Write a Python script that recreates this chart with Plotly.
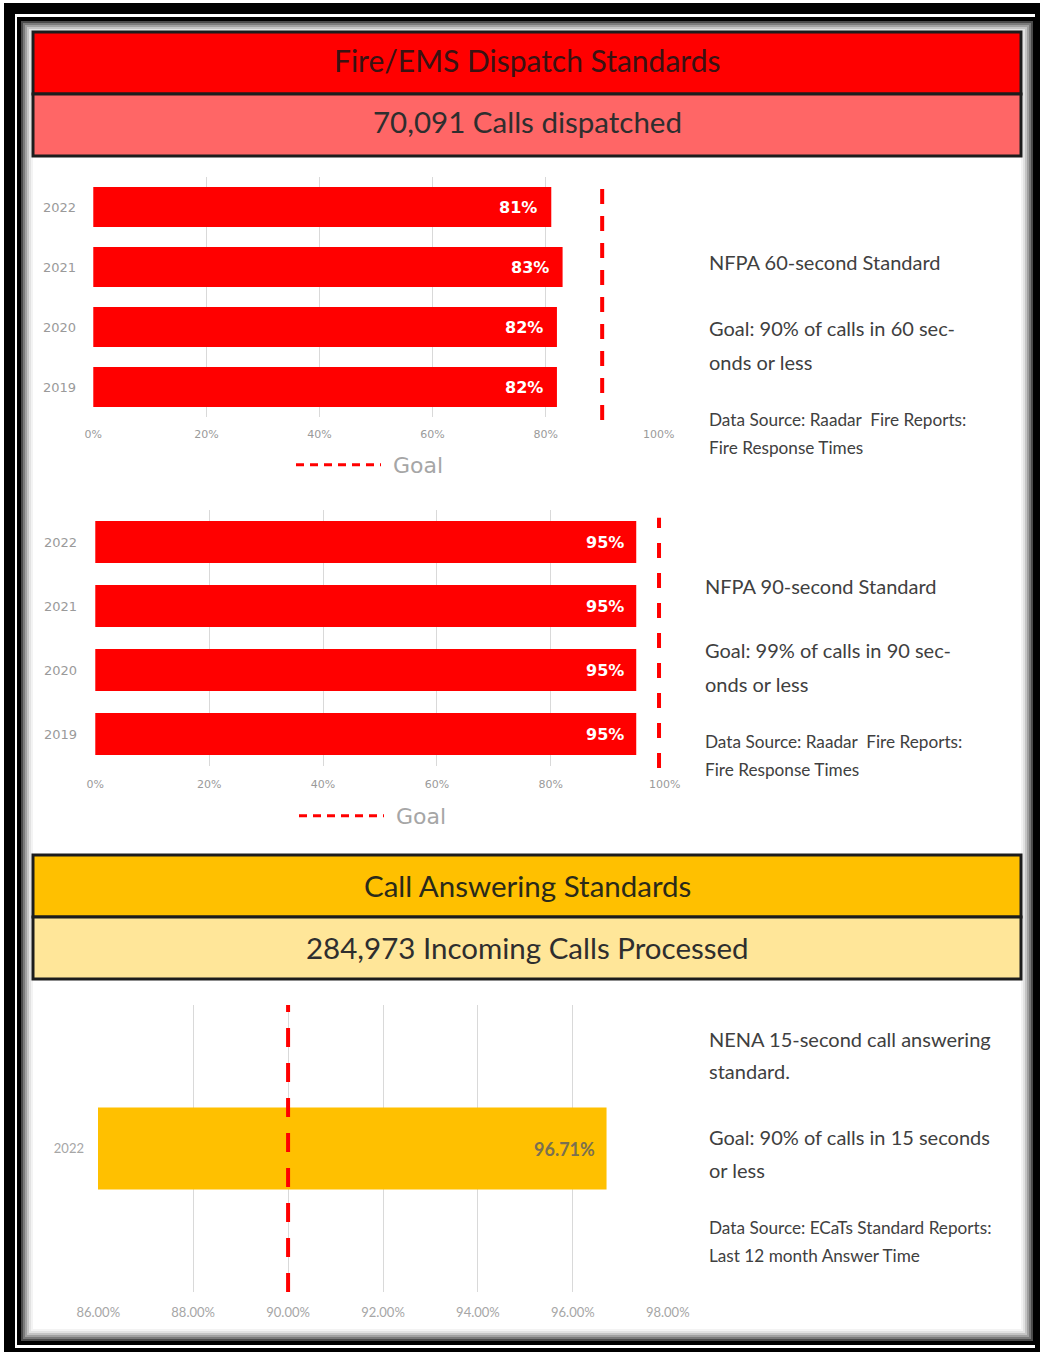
import plotly.graph_objects as go

W, H = 1040, 1352

# ---------------- data ----------------
years = ["2019", "2020", "2021", "2022"]
nfpa60_pct = [82, 82, 83, 81]
nfpa90_pct = [95, 95, 95, 95]
goal60 = 90
goal90 = 99

answer_years = ["2022"]
nena15_pct = [96.71]
goal15 = 90

pct_ticks = [0, 20, 40, 60, 80, 100]
pct_ticktext = ["0%", "20%", "40%", "60%", "80%", "100%"]
ans_ticks = [86, 88, 90, 92, 94, 96, 98]
ans_ticktext = ["86.00%", "88.00%", "90.00%", "92.00%", "94.00%", "96.00%", "98.00%"]

header1 = "Fire/EMS Dispatch Standards"
sub1 = "70,091 Calls dispatched"
header2 = "Call Answering Standards"
sub2 = "284,973 Incoming Calls Processed"

text60 = ["NFPA 60-second Standard", "Goal: 90% of calls in 60 sec-", "onds or less",
          "Data Source: Raadar  Fire Reports:", "Fire Response Times"]
text90 = ["NFPA 90-second Standard", "Goal: 99% of calls in 90 sec-", "onds or less",
          "Data Source: Raadar  Fire Reports:", "Fire Response Times"]
text15 = ["NENA 15-second call answering", "standard.", "Goal: 90% of calls in 15 seconds",
          "or less", "Data Source: ECaTs Standard Reports:", "Last 12 month Answer Time"]


def X(px):
    return px / W


def Y(py):
    return 1 - py / H


RED = "#FF0000"
YEL = "#FFC000"
GRID = "#d9d9d9"
TICKC = "#9a9a9a"
BODY = "#404040"

fig = go.Figure()

# ---------------- bars ----------------
fig.add_trace(go.Bar(x=nfpa60_pct, y=years, orientation="h", marker=dict(color=RED, line=dict(width=0)),
                     width=0.667, xaxis="x", yaxis="y", showlegend=False, hoverinfo="skip"))
fig.add_trace(go.Bar(x=nfpa90_pct, y=years, orientation="h", marker=dict(color=RED, line=dict(width=0)),
                     width=0.656, xaxis="x2", yaxis="y2", showlegend=False, hoverinfo="skip"))
fig.add_trace(go.Bar(x=nena15_pct, y=answer_years, orientation="h", marker=dict(color=YEL, line=dict(width=0)),
                     width=0.286, xaxis="x3", yaxis="y3", showlegend=False, hoverinfo="skip"))

# legend-only goal keys
fig.add_trace(go.Scatter(x=[None], y=[None], mode="lines", name="\u00a0Goal",
                         line=dict(color=RED, width=3, dash="8px,6px"), xaxis="x", yaxis="y", legend="legend"))
fig.add_trace(go.Scatter(x=[None], y=[None], mode="lines", name="\u00a0Goal",
                         line=dict(color=RED, width=3, dash="8px,6px"), xaxis="x2", yaxis="y2", legend="legend2"))

# goal lines
fig.add_shape(type="line", xref="x", yref="y domain", x0=goal60, x1=goal60, y0=-0.012, y1=0.967,
              line=dict(color=RED, width=4, dash="15px,12px"))
fig.add_shape(type="line", xref="x2", yref="y2 domain", x0=goal90, x1=goal90, y0=-0.008, y1=0.97,
              line=dict(color=RED, width=4, dash="15px,15px"))
fig.add_shape(type="line", xref="x3", yref="y3 domain", x0=goal15, x1=goal15, y0=0.0, y1=1.0,
              line=dict(color=RED, width=4, dash="19px,16px"))

# bar value labels (category axes: position = category index)
for v, yr in zip(nfpa60_pct, years):
    fig.add_annotation(x=v, y=years.index(yr), xref="x", yref="y", text="<b>%d%%</b>" % v, showarrow=False,
                       xanchor="right", xshift=-12, font=dict(family="DejaVu Sans", size=16, color="white"))
for v, yr in zip(nfpa90_pct, years):
    fig.add_annotation(x=v, y=years.index(yr), xref="x2", yref="y2", text="<b>%d%%</b>" % v, showarrow=False,
                       xanchor="right", xshift=-10, font=dict(family="DejaVu Sans", size=16, color="white"))
for v, yr in zip(nena15_pct, answer_years):
    fig.add_annotation(x=v, y=answer_years.index(yr), xref="x3", yref="y3", text="<b>%.2f%%</b>" % v,
                       showarrow=False, xanchor="right", xshift=-10,
                       font=dict(family="Lato", size=18, color="#7a7050"))

# ---------------- axes ----------------
tickfont_v = dict(family="DejaVu Sans", size=11, color=TICKC)
tickfont_l = dict(family="Lato", size=13, color="#a6a6a6")

common_x = dict(showgrid=True, gridcolor=GRID, gridwidth=1, zeroline=False, showline=False,
                ticks="", fixedrange=True, automargin=False)
common_y = dict(showgrid=False, zeroline=False, showline=False, ticks="", fixedrange=True, automargin=False)

fig.update_layout(
    xaxis=dict(domain=[X(93), X(659)], range=[-0.05, 100.05], anchor="y", tickvals=pct_ticks,
               ticktext=pct_ticktext, tickfont=tickfont_v, ticklabelstandoff=9, **common_x),
    yaxis=dict(domain=[Y(417), Y(177)], anchor="x", type="category", categoryorder="array",
               categoryarray=years, range=[-0.5, len(years) - 0.5],
               tickfont=dict(family="DejaVu Sans", size=13, color=TICKC), ticklabelstandoff=16, **common_y),
    xaxis2=dict(domain=[X(95), X(665)], range=[-0.05, 100.05], anchor="y2", tickvals=pct_ticks,
                ticktext=pct_ticktext, tickfont=tickfont_v, ticklabelstandoff=10, **common_x),
    yaxis2=dict(domain=[Y(766), Y(510)], anchor="x2", type="category", categoryorder="array",
                categoryarray=years, range=[-0.5, len(years) - 0.5],
                tickfont=dict(family="DejaVu Sans", size=13, color=TICKC), ticklabelstandoff=17, **common_y),
    xaxis3=dict(domain=[X(98), X(668)], range=[85.995, 98.005], anchor="y3", tickvals=ans_ticks,
                ticktext=ans_ticktext, tickfont=tickfont_l, ticklabelstandoff=11, **common_x),
    yaxis3=dict(domain=[Y(1292), Y(1005)], anchor="x3", type="category", categoryarray=answer_years,
                range=[-0.5, len(answer_years) - 0.5], tickfont=tickfont_l, ticklabelstandoff=13, **common_y),
)

# legends
legend_common = dict(orientation="h", itemwidth=85, font=dict(family="DejaVu Sans", size=22, color="#a6a6a6"),
                     bgcolor="rgba(0,0,0,0)", borderwidth=0, xanchor="left", yanchor="middle",
                     itemclick=False, itemdoubleclick=False)
fig.update_layout(
    legend=dict(x=X(291), y=Y(465), **legend_common),
    legend2=dict(x=X(294), y=Y(816), **legend_common),
)

# ---------------- frame & headers ----------------
shapes = []


def rect(x0, y0, x1, y1, fill=None, line_color=None, lw=0, layer="below"):
    d = dict(type="rect", xref="paper", yref="paper", x0=X(x0), x1=X(x1), y0=Y(y1), y1=Y(y0), layer=layer)
    d["fillcolor"] = fill if fill else "rgba(0,0,0,0)"
    d["line"] = dict(color=line_color if line_color else "rgba(0,0,0,0)", width=lw)
    return d


shapes.append(rect(4, 3, 1040, 1352, fill="black"))
shapes.append(rect(15, 14, 1035, 1348, fill="white"))
shapes.append(rect(19, 19, 1035, 1343, line_color="black", lw=4))
# soft inner shadow
for inset, col in [(3, "#4a4a4a"), (5, "#7a7a7a"), (7, "#a0a0a0"), (9, "#c4c4c4"), (11, "#e2e2e2"), (13, "#f3f3f3")]:
    shapes.append(rect(19 + inset, 19 + inset, 1035 - inset, 1343 - inset, line_color=col, lw=2))

# header boxes
shapes.append(rect(33, 32, 1021, 94, fill=RED, line_color="#1c1c1c", lw=3, layer="above"))
shapes.append(rect(33, 94, 1021, 156, fill="#FF6666", line_color="#1c1c1c", lw=3, layer="above"))
shapes.append(rect(33, 855, 1021, 917, fill=YEL, line_color="#1c1c1c", lw=3, layer="above"))
shapes.append(rect(33, 917, 1021, 979, fill="#FFE699", line_color="#1c1c1c", lw=3, layer="above"))

for s in shapes:
    fig.add_shape(**s)


def label(px, py, text, size, color, family="Lato", anchor="left"):
    fig.add_annotation(x=X(px), y=Y(py), xref="paper", yref="paper", text=text, showarrow=False,
                       xanchor=anchor, yanchor="middle", font=dict(family=family, size=size, color=color))


label(527, 60, header1, 30, "#3a1212", anchor="center")
label(527, 122, sub1, 29.5, "#2e2e2e", anchor="center")
label(527, 885, header2, 29.5, "#2a2a1a", anchor="center")
label(527, 947, sub2, 29.5, "#2e2e2e", anchor="center")

# side texts
for txt, py, sz in zip(text60, [262, 328, 362, 419, 447], [20, 20, 20, 17.2, 17.2]):
    label(707, py, txt, sz, BODY)
for txt, py, sz in zip(text90, [586, 650, 684, 741, 769], [20, 20, 20, 17.2, 17.2]):
    label(703, py, txt, sz, BODY)
for txt, py, sz in zip(text15, [1039, 1071, 1137, 1170, 1227, 1255], [20, 20, 20, 20, 17.2, 17.2]):
    label(707, py, txt, sz, BODY)

fig.update_layout(width=W, height=H, margin=dict(l=0, r=0, t=0, b=0, pad=0, autoexpand=False),
                  paper_bgcolor="white", plot_bgcolor="rgba(0,0,0,0)", bargap=0.3)

# remove the default 8px page margin so the figure sits at the window origin
fig.write_html("out.html", config={"displayModeBar": False},
               post_script="document.body.style.margin='0';")
